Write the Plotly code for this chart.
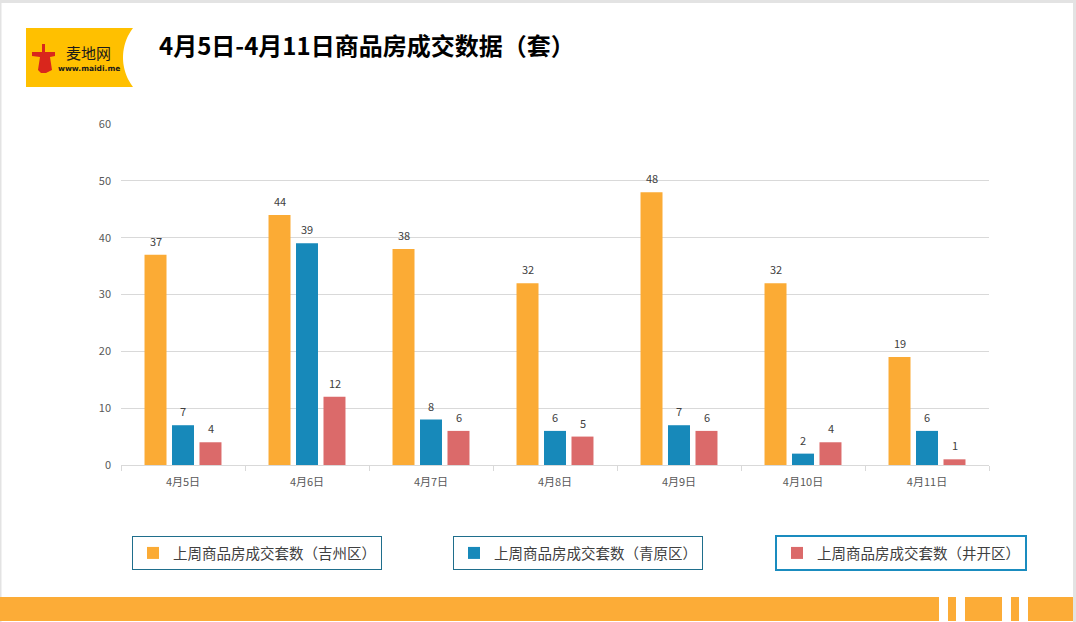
import math
import plotly.graph_objects as go

categories = ["4月5日", "4月6日", "4月7日", "4月8日", "4月9日", "4月10日", "4月11日"]
jizhou = [37, 44, 38, 32, 48, 32, 19]
qingyuan = [7, 39, 8, 6, 7, 2, 6]
jingkai = [4, 12, 6, 5, 6, 4, 1]
series_names = ["上周商品房成交套数（吉州区）", "上周商品房成交套数（青原区）", "上周商品房成交套数（井开区）"]
colors = ["#FBAB35", "#1789BA", "#DB6A6A"]
title_text = "4月5日-4月11日商品房成交数据（套）"

W, H = 1076, 622
L, R, T, B = 121, 989, 124, 465


def px(x):
    return (x - L) / (R - L)


def py(y):
    return (B - y) / (B - T)


FONT = "Noto Sans CJK SC"
fig = go.Figure()
legends = ["legend", "legend2", "legend3"]
all_vals = [jizhou, qingyuan, jingkai]
for name, vals, col, lg in zip(series_names, all_vals, colors, legends):
    fig.add_trace(go.Bar(
        x=categories, y=vals, name=name, marker_color=col, marker_line_width=0,
        legend=lg, hoverinfo="x+y",
    ))

annotations = []
offsets = [-27.5, 0, 27.5]
for vals, off in zip(all_vals, offsets):
    for c, v in zip(categories, vals):
        annotations.append(dict(x=c, y=v, xref="x", yref="y", text=str(v), showarrow=False,
                                xshift=off, yshift=14, yanchor="middle",
                                font=dict(size=11, color="#404040", family=FONT)))

shapes = []
# outer gray frame
shapes.append(dict(type="rect", xref="paper", yref="paper", x0=px(0), x1=px(W), y0=py(0), y1=py(3),
                   fillcolor="#E3E3E3", line_width=0, layer="below"))
shapes.append(dict(type="rect", xref="paper", yref="paper", x0=px(0), x1=px(1.5), y0=py(0), y1=py(H),
                   fillcolor="#E3E3E3", line_width=0, layer="below"))
shapes.append(dict(type="rect", xref="paper", yref="paper", x0=px(1073), x1=px(W), y0=py(0), y1=py(H),
                   fillcolor="#E3E3E3", line_width=0, layer="below"))


def path(points, close=True):
    s = "M " + " L ".join(f"{px(x):.5f},{py(y):.5f}" for x, y in points)
    return s + (" Z" if close else "")


# logo with concave right edge
ytop, ybot, xr, sag = 28, 87, 133, 10
half = (ybot - ytop) / 2
rad = (half ** 2 + sag ** 2) / (2 * sag)
cx, cy = xr - sag + rad, (ytop + ybot) / 2
pts = [(26, ytop)]
n = 30
for i in range(n + 1):
    yy = ytop + (ybot - ytop) * i / n
    pts.append((cx - math.sqrt(max(rad ** 2 - (yy - cy) ** 2, 0)), yy))
pts.append((26, ybot))
shapes.append(dict(type="path", xref="paper", yref="paper", path=path(pts), fillcolor="#FFC000", line_width=0))
icon = [(42, 44), (45, 44), (45, 52), (55, 52), (55, 56), (50, 57), (52, 70), (46, 73), (41, 73),
        (38, 70), (40, 57), (32, 56), (32, 52), (42, 52)]
shapes.append(dict(type="path", xref="paper", yref="paper", path=path(icon), fillcolor="#D9261C", line_width=0))
# bottom band
segs = [(0, 939), (948, 956), (965, 1002), (1011, 1019), (1028, 1073)]
for a, b in segs:
    shapes.append(dict(type="rect", xref="paper", yref="paper", x0=px(a), x1=px(b), y0=py(597), y1=py(621),
                       fillcolor="#FCAC37", line_width=0))

annotations += [
    dict(text="<b>" + title_text + "</b>", xref="paper", yref="paper", x=px(157), y=py(44),
         xanchor="left", yanchor="middle", showarrow=False,
         font=dict(size=24, color="#000000", family=FONT)),
    dict(text="麦地网", xref="paper", yref="paper", x=px(88), y=py(53), xanchor="center", yanchor="middle",
         showarrow=False, font=dict(size=15, color="#1a1a1a", family=FONT)),
    dict(text="<b>www.maidi.me</b>", xref="paper", yref="paper", x=px(89), y=py(69), xanchor="center",
         yanchor="middle", showarrow=False, font=dict(size=7.5, color="#1a1a1a", family="DejaVu Sans")),
]

leg_common = dict(orientation="h", xanchor="left", yanchor="top", bgcolor="rgba(0,0,0,0)",
                  font=dict(size=14.5, color="#404040", family=FONT), itemclick=False)
fig.update_layout(
    width=W, height=H,
    margin=dict(l=L, r=W - R, t=T, b=H - B),
    paper_bgcolor="white", plot_bgcolor="white",
    barmode="group", bargap=0.335, bargroupgap=0.2,
    font=dict(family=FONT, color="#595959"),
    shapes=shapes, annotations=annotations,
    legend=dict(x=px(132), y=py(536), bordercolor="#1F6E8C", borderwidth=1, **leg_common),
    legend2=dict(x=px(453), y=py(536), bordercolor="#1F6E8C", borderwidth=1, **leg_common),
    legend3=dict(x=px(775), y=py(535), bordercolor="#1A8CBF", borderwidth=2, **leg_common),
    showlegend=True,
)
fig.update_yaxes(range=[0, 60], dtick=10, showgrid=True, gridcolor="#D9D9D9", gridwidth=1,
                 zeroline=False, showline=False, ticks="", ticklabelstandoff=9,
                 tickfont=dict(size=11, color="#595959", family=FONT))
fig.update_xaxes(showline=True, linecolor="#D9D9D9", linewidth=1, ticks="outside", tickson="boundaries",
                 ticklen=5, tickcolor="#D9D9D9", showgrid=False, ticklabelstandoff=7,
                 tickfont=dict(size=11, color="#595959", family=FONT))

fig.write_html("out.html")
